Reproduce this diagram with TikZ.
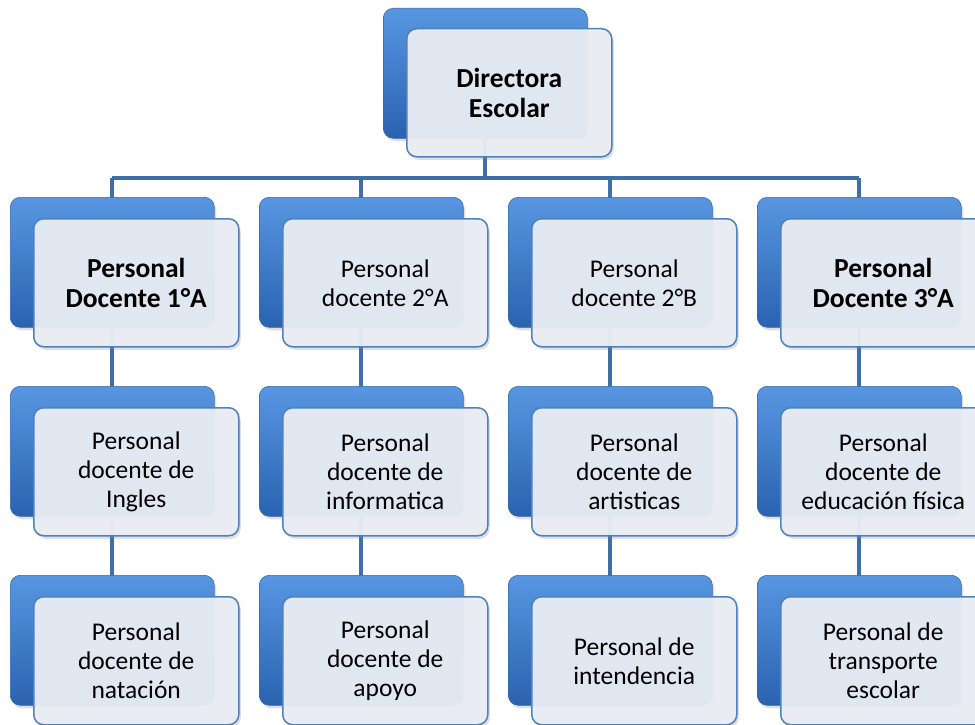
\documentclass[tikz,border=0pt]{standalone}
\usepackage{fontspec}
\setmainfont{Carlito}
\usetikzlibrary{shadows}
\definecolor{bluetop}{RGB}{88,150,226}
\definecolor{bluebot}{RGB}{42,98,176}
\definecolor{blueedge}{RGB}{52,104,172}
\definecolor{frontfill}{RGB}{234,238,245}
\definecolor{frontedge}{RGB}{79,129,189}
\definecolor{connc}{RGB}{66,110,168}
\pgfdeclarelayer{paper}
\pgfdeclarelayer{conns}
\pgfsetlayers{paper,conns,main}
\begin{document}
\begin{tikzpicture}[x=1pt,y=-1pt,
  bluebox/.style={rectangle,rounded corners=10pt,minimum width=204pt,minimum height=130pt,
    inner sep=0pt,anchor=north west,top color=bluetop,bottom color=bluebot,draw=blueedge,line width=0.6pt,
    drop shadow={shadow xshift=2pt,shadow yshift=-3pt,opacity=0.25}},
  frontbox/.style={rectangle,rounded corners=10pt,minimum width=205pt,minimum height=128pt,
    inner sep=0pt,anchor=north west,fill=frontfill,fill opacity=0.95,text opacity=1,draw=frontedge,line width=1.5pt,
    align=center,font=\fontsize{25.5}{29}\selectfont,
    drop shadow={shadow xshift=2pt,shadow yshift=-3pt,opacity=0.25}},
  boldtext/.style={font=\fontsize{27.5}{30}\selectfont\bfseries},
  conn/.style={draw=connc,line width=4pt}]
\useasboundingbox (0,0) rectangle (975,725);
\clip (0,0) rectangle (975,725);
\begin{pgfonlayer}{paper}
\fill[white] (0,0) rectangle (975,725);
\end{pgfonlayer}
\coordinate (bus) at (0,178);
% boxes
\node[bluebox] (b0) at (383,8) {};
\node[frontbox,boldtext] (f0) at (406,28) {Directora\\Escolar};

\node[bluebox] (b11) at (10,197) {};
\node[frontbox,boldtext] (f11) at (33,218) {Personal\\Docente 1°A};
\node[bluebox] (b12) at (259,197) {};
\node[frontbox] (f12) at (282,218) {Personal\\docente 2°A};
\node[bluebox] (b13) at (508,197) {};
\node[frontbox] (f13) at (531,218) {Personal\\docente 2°B};
\node[bluebox] (b14) at (757,197) {};
\node[frontbox,boldtext] (f14) at (780,218) {Personal\\Docente 3°A};

\node[bluebox] (b21) at (10,386) {};
\node[frontbox] (f21) at (33,407) {Personal\\docente de\\Ingles};
\node[bluebox] (b22) at (259,386) {};
\node[frontbox] (f22) at (282,407) {Personal\\docente de\\informatica};
\node[bluebox] (b23) at (508,386) {};
\node[frontbox] (f23) at (531,407) {Personal\\docente de\\artisticas};
\node[bluebox] (b24) at (757,386) {};
\node[frontbox] (f24) at (780,407) {Personal\\docente de\\educación física};

\node[bluebox] (b31) at (10,575) {};
\node[frontbox] (f31) at (33,596) {Personal\\docente de\\natación};
\node[bluebox] (b32) at (259,575) {};
\node[frontbox] (f32) at (282,596) {Personal\\docente de\\apoyo};
\node[bluebox] (b33) at (508,575) {};
\node[frontbox] (f33) at (531,596) {Personal de\\intendencia};
\node[bluebox] (b34) at (757,575) {};
\node[frontbox] (f34) at (780,596) {Personal de\\transporte\\escolar};

\begin{pgfonlayer}{conns}
\draw[conn] (b0.center) -- (b0.center |- bus);
\draw[conn] (b11.north |- bus) -- (b14.north |- bus);
\foreach \c in {1,2,3,4}{
  \draw[conn] (b1\c.north |- bus) -- (b1\c.center);
  \draw[conn] (b1\c.center) -- (b2\c.center);
  \draw[conn] (b2\c.center) -- (b3\c.center);
}
\end{pgfonlayer}
\end{tikzpicture}
\end{document}
